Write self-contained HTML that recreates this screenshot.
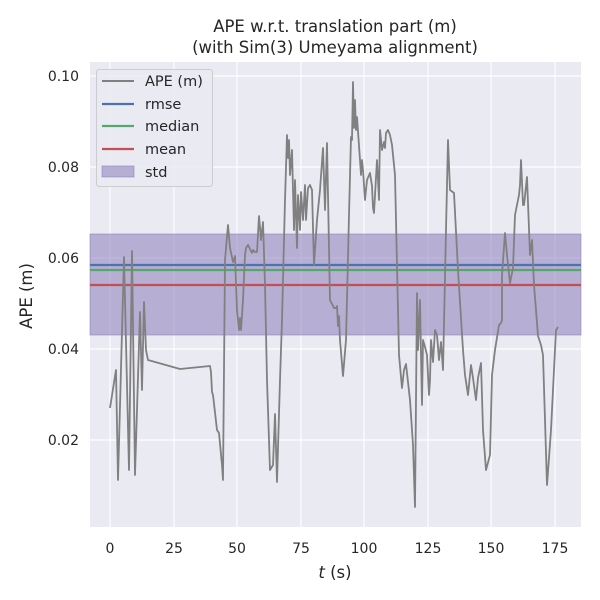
<!DOCTYPE html>
<html><head><style>body{margin:0;background:#fff}svg{display:block}text{font-family:"DejaVu Sans","Liberation Sans",sans-serif;fill:#262626}</style></head>
<body>
<svg width="600" height="600" viewBox="0 0 600 600">
<rect x="90" y="62" width="491" height="465" fill="#eaeaf2"/>
<g stroke="#fff" stroke-width="1.2">
<line x1="110" y1="62" x2="110" y2="527"/><line x1="174" y1="62" x2="174" y2="527"/><line x1="237" y1="62" x2="237" y2="527"/><line x1="301" y1="62" x2="301" y2="527"/><line x1="364" y1="62" x2="364" y2="527"/><line x1="428" y1="62" x2="428" y2="527"/><line x1="491" y1="62" x2="491" y2="527"/><line x1="555" y1="62" x2="555" y2="527"/>
<line x1="90" y1="76" x2="581" y2="76"/><line x1="90" y1="167" x2="581" y2="167"/><line x1="90" y1="258" x2="581" y2="258"/><line x1="90" y1="349" x2="581" y2="349"/><line x1="90" y1="440" x2="581" y2="440"/>
</g>
<rect x="90" y="234" width="491" height="101" fill="#8172b3" fill-opacity="0.5" stroke="#8172b3" stroke-opacity="0.5"/>
<line x1="90" y1="265" x2="581" y2="265" stroke="#4c72b0" stroke-width="2.2"/>
<line x1="90" y1="270" x2="581" y2="270" stroke="#55a868" stroke-width="2.2"/>
<line x1="90" y1="285" x2="581" y2="285" stroke="#c44e52" stroke-width="2.2"/>
<polyline fill="none" stroke="#808080" stroke-width="1.8" stroke-linejoin="round" points="110,408 116,370 118,480 124,257 129,470 132,251 135,475 140,312 142,390 144,302 146,350 148,360 180,369 210,366 211,372 212,392 213,395 217,430 219,433 222,465 223,480 225,260 228,225 230,248 233,262 235,256 237,310 239,330 240,318 241,330 243,300 245,255 246,248 248,245 252,253 253,250 255,252 257,252 259,216 261,240 263,222 265,285 267,380 270,470 273,465 275,414 277,482 280,380 282,320 285,200 287,135 288,158 289,140 290,175 292,150 294,230 295,180 297,248 298,195 300,230 301,192 303,220 305,185 306,220 308,188 310,185 312,190 314,265 317,220 320,190 323,148 325,210 327,143 330,300 334,308 336,308 337,306 338,326 339,316 340,340 343,376 346,340 349,215 351,137 352,140 353,82 354,128 355,100 356,130 357,117 360,160 361,175 362,160 363,170 365,200 367,180 370,173 372,186 373,208 374,213 377,160 379,200 380,130 382,150 384,142 385,148 386,133 388,130 390,135 392,145 395,175 399,355 402,388 404,370 406,364 410,400 413,445 415,507 417,293 418,350 420,300 421,355 422,405 423,340 425,347 427,355 429,395 430,380 431,340 433,362 435,330 437,335 439,360 441,342 443,370 446,230 448,140 450,190 454,193 458,270 463,350 465,375 468,395 471,365 473,378 476,400 478,378 481,363 483,430 486,470 490,455 492,375 495,350 499,325 501,323 502,320 502,275 505,233 507,255 510,283 513,268 515,215 518,200 519,195 520,185 521,160 523,205 524,205 527,177 530,255 532,240 534,285 536,310 538,336 541,345 543,355 547,485 551,430 553,390 556,330 558,327"/>
<rect x="96.5" y="69.5" width="116" height="117" rx="3" fill="#eaeaf2" fill-opacity="0.8" stroke="#cccccc"/>
<line x1="102" y1="81" x2="134" y2="81" stroke="#808080" stroke-width="2"/>
<line x1="102" y1="104" x2="134" y2="104" stroke="#4c72b0" stroke-width="2.2"/>
<line x1="102" y1="126" x2="134" y2="126" stroke="#55a868" stroke-width="2.2"/>
<line x1="102" y1="149" x2="134" y2="149" stroke="#c44e52" stroke-width="2.2"/>
<rect x="102" y="166" width="32" height="11" fill="#8172b3" fill-opacity="0.5" stroke="#8172b3" stroke-opacity="0.5"/>
<g font-size="14.5"><text x="145" y="86">APE (m)</text><text x="145" y="109">rmse</text><text x="145" y="131">median</text><text x="145" y="154">mean</text><text x="145" y="177">std</text></g>
<g font-size="14" text-anchor="end"><text x="79" y="81">0.10</text><text x="79" y="172">0.08</text><text x="79" y="263">0.06</text><text x="79" y="354">0.04</text><text x="79" y="445">0.02</text></g>
<g font-size="14" text-anchor="middle"><text x="110" y="553">0</text><text x="174" y="553">25</text><text x="237" y="553">50</text><text x="301" y="553">75</text><text x="364" y="553">100</text><text x="428" y="553">125</text><text x="491" y="553">150</text><text x="555" y="553">175</text></g>
<text x="335" y="578" font-size="16.5" text-anchor="middle"><tspan font-style="italic">t</tspan> (s)</text>
<text transform="translate(32,296) rotate(-90)" font-size="16.5" text-anchor="middle">APE (m)</text>
<text x="335" y="32" font-size="16.5" text-anchor="middle">APE w.r.t. translation part (m)</text>
<text x="335" y="53" font-size="16.5" text-anchor="middle">(with Sim(3) Umeyama alignment)</text>
</svg>
</body></html>
